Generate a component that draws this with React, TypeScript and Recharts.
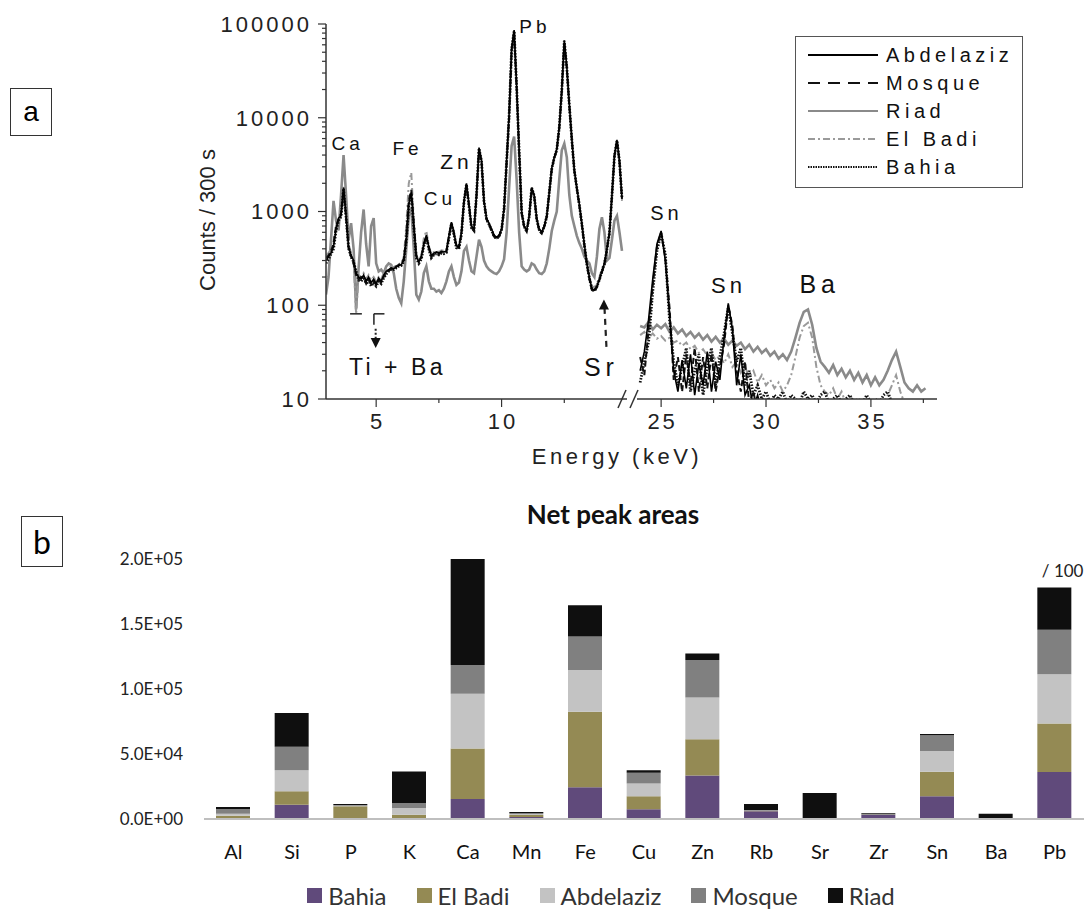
import React from "react";
import {
  LineChart,
  Line,
  XAxis,
  YAxis,
  ReferenceDot,
  ReferenceLine,
  Legend,
  BarChart,
  Bar,
} from "recharts";

// ---------- panel a: XRF spectra (counts / 300 s) ----------

const LOW_KEV = [
  3.0, 3.1, 3.2, 3.3, 3.4, 3.5, 3.6, 3.7, 3.8, 3.9,
  4.0, 4.1, 4.2, 4.3, 4.4, 4.5, 4.6, 4.7, 4.8, 4.9,
  5.0, 5.1, 5.2, 5.3, 5.4, 5.5, 5.6, 5.7, 5.8, 5.9,
  6.0, 6.1, 6.2, 6.3, 6.4, 6.5, 6.6, 6.7, 6.8, 6.9,
  7.0, 7.1, 7.2, 7.3, 7.4, 7.5, 7.6, 7.7, 7.8, 7.9,
  8.0, 8.1, 8.2, 8.3, 8.4, 8.5, 8.6, 8.7, 8.8, 8.9,
  9.0, 9.1, 9.2, 9.3, 9.4, 9.5, 9.6, 9.7, 9.8, 9.9,
  10.0, 10.1, 10.2, 10.3, 10.4, 10.5, 10.6, 10.7, 10.8, 10.9,
  11.0, 11.1, 11.2, 11.3, 11.4, 11.5, 11.6, 11.7, 11.8, 11.9,
  12.0, 12.1, 12.2, 12.3, 12.4, 12.5, 12.6, 12.7, 12.8, 12.9,
  13.0, 13.1, 13.2, 13.3, 13.4, 13.5, 13.6, 13.7, 13.8, 13.9,
  14.0, 14.1, 14.2, 14.3, 14.4, 14.5, 14.6, 14.7, 14.8,
];

const ABDELAZIZ_LOW = [
  300, 330, 360, 420, 650, 850, 900, 1800, 900, 420,
  340, 300, 220, 200, 190, 210, 180, 200, 175, 190,
  170, 195, 180, 210, 230, 240, 250, 245, 255, 265,
  270, 300, 500, 1200, 1600, 700, 330, 290, 330, 450,
  560, 420, 340, 360, 370, 360, 375, 370, 380, 550,
  770, 600, 430, 420, 600, 1300, 2000, 1200, 700, 650,
  1500, 4800, 3500, 1300, 850, 750, 650, 560, 530, 560,
  650, 1100, 3500, 11000, 55000, 86000, 22000, 4500, 1000, 700,
  630, 900, 1800, 1500, 850, 650, 600, 700, 900, 1600,
  2900, 3800, 4600, 8000, 20000, 67000, 35000, 14000, 6000, 2800,
  1800, 1200, 750, 450, 280, 200, 150, 145, 160, 190,
  230, 280, 400, 600, 1500, 4000, 5800, 3500, 1400,
];

const MOSQUE_LOW = [
  320, 340, 380, 450, 700, 820, 950, 1700, 850, 400,
  330, 280, 210, 190, 200, 195, 170, 190, 165, 180,
  165, 185, 175, 200, 220, 235, 240, 250, 260, 270,
  280, 310, 520, 1300, 1700, 750, 340, 300, 320, 440,
  540, 400, 330, 350, 360, 350, 365, 360, 370, 530,
  740, 580, 420, 410, 580, 1250, 1900, 1150, 680, 620,
  1450, 4600, 3400, 1250, 820, 720, 620, 540, 510, 540,
  630, 1050, 3300, 10000, 52000, 82000, 21000, 4300, 950, 680,
  610, 870, 1750, 1450, 820, 620, 580, 680, 870, 1550,
  2800, 3700, 4500, 7800, 19000, 64000, 34000, 13500, 5800, 2700,
  1750, 1150, 720, 430, 270, 190, 145, 140, 155, 185,
  225, 270, 390, 580, 1450, 3900, 5600, 3400, 1350,
];

const RIAD_LOW = [
  130, 200, 500, 1300, 800, 630, 1500, 4000, 1500, 500,
  750, 400, 90, 250, 600, 1050, 450, 260, 700, 850,
  280, 230, 240, 220, 260, 280, 270, 220, 150, 120,
  105, 180, 400, 900, 1100, 400, 130, 115, 140, 220,
  260, 180, 150, 150, 140, 145, 135, 150, 180, 230,
  260, 200, 165, 175, 230, 380, 420, 300, 230, 220,
  330, 500, 420, 300, 260, 240, 230, 220, 215, 230,
  260, 310, 600, 1800, 5000, 6300, 2200, 600, 260, 240,
  230, 240, 280, 270, 240, 220, 215, 230, 280, 400,
  620, 800, 1000, 2200, 4500, 5300, 3800, 1500, 900, 700,
  550, 460, 400, 330, 300, 280, 220, 200, 330, 650,
  870, 600, 300, 320, 500, 800, 900, 600, 380,
];

const EL_BADI_LOW = [
  340, 360, 400, 480, 700, 800, 1000, 1900, 950, 450,
  360, 310, 80, 210, 200, 220, 190, 210, 185, 200,
  180, 200, 190, 220, 240, 250, 260, 255, 265, 275,
  280, 320, 700, 2000, 2600, 800, 350, 300, 340, 520,
  620, 430, 350, 370, 380, 370, 385, 380, 390, 560,
  780, 610, 440, 430, 610, 1280, 1950, 1180, 690, 640,
  1480, 4700, 3450, 1290, 840, 740, 640, 550, 520, 550,
  640, 1000, 3000, 9500, 50000, 80000, 20000, 4200, 950, 680,
  620, 880, 1700, 1450, 830, 640, 590, 690, 880, 1550,
  2800, 3700, 4500, 7500, 18500, 62000, 33000, 13000, 5700, 2700,
  1750, 1150, 730, 440, 280, 205, 160, 155, 170, 200,
  245, 290, 410, 600, 1450, 3800, 5500, 3300, 1300,
];

const BAHIA_LOW = [
  280, 310, 350, 400, 620, 800, 880, 1750, 880, 410,
  330, 290, 230, 185, 180, 200, 170, 185, 160, 175,
  160, 180, 170, 195, 215, 230, 245, 240, 250, 260,
  265, 295, 480, 1150, 1550, 680, 320, 280, 310, 430,
  530, 400, 320, 345, 355, 345, 360, 355, 365, 520,
  740, 570, 410, 400, 570, 1250, 1950, 1150, 670, 630,
  1480, 4700, 3450, 1280, 830, 730, 630, 545, 515, 545,
  640, 1080, 3400, 10500, 54000, 84000, 21500, 4400, 980, 690,
  620, 880, 1780, 1480, 830, 640, 590, 690, 880, 1580,
  2850, 3750, 4550, 7900, 19500, 66000, 34500, 13800, 5900, 2750,
  1780, 1180, 740, 440, 275, 195, 148, 142, 158, 188,
  228, 275, 395, 590, 1480, 3950, 5700, 3450, 1380,
];

const HIGH_KEV = [
  24.0, 24.2, 24.4, 24.6, 24.8, 25.0, 25.2, 25.4, 25.6, 25.8,
  26.0, 26.2, 26.4, 26.6, 26.8, 27.0, 27.2, 27.4, 27.6, 27.8,
  28.0, 28.2, 28.4, 28.6, 28.8, 29.0, 29.2, 29.4, 29.6, 29.8,
  30.0, 30.2, 30.4, 30.6, 30.8, 31.0, 31.2, 31.4, 31.6, 31.8,
  32.0, 32.2, 32.4, 32.6, 32.8, 33.0, 33.2, 33.4, 33.6, 33.8,
  34.0, 34.2, 34.4, 34.6, 34.8, 35.0, 35.2, 35.4, 35.6, 35.8,
  36.0, 36.2, 36.4, 36.6, 36.8, 37.0, 37.2, 37.4, 37.6,
];

const ABDELAZIZ_HIGH = [
  20, 32, 70, 190, 450, 620, 300, 80, 20, 12,
  26, 13, 30, 11, 24, 14, 32, 12, 25, 16,
  45, 105, 55, 14, 30, 11, 14, 8, 11, 7,
  10, 6, 9, 5, 8, 5, 7, 5, 8, 5,
  6, 5, 7, 5, 6, 5, 6, 5, 7, 5,
  5, 6, 5, 5, 5, 6, 5, 5, 5, 5,
  5, 5, 5, 5, 5, 5, 5, 5, 5,
];

const MOSQUE_HIGH = [
  28, 18, 55, 160, 420, 600, 320, 95, 16, 28,
  12, 30, 14, 35, 12, 28, 13, 30, 12, 22,
  38, 100, 60, 20, 12, 25, 9, 12, 7, 10,
  6, 9, 5, 8, 5, 7, 5, 6, 5, 7,
  5, 6, 5, 6, 5, 5, 5, 6, 5, 5,
  6, 5, 5, 5, 6, 5, 5, 5, 5, 5,
  5, 5, 5, 5, 5, 5, 5, 5, 5,
];

const RIAD_HIGH = [
  60, 58, 66, 55, 62, 57, 63, 52, 58, 50,
  55, 47, 52, 45, 50, 43, 48, 41, 46, 40,
  44, 38, 42, 37, 40, 34, 38, 32, 36, 31,
  34, 29, 32, 27, 30, 26, 32, 45, 65, 85,
  90, 62, 35, 25, 22, 19, 23, 18, 21, 17,
  20, 16, 19, 15, 18, 14, 17, 14, 16, 20,
  26, 32, 22, 15, 13, 12, 14, 12, 13,
];

const EL_BADI_HIGH = [
  48, 52, 45, 50, 44, 47, 42, 45, 40, 42,
  37, 40, 34, 37, 31, 34, 29, 31, 26, 29,
  24, 30, 22, 25, 19, 22, 17, 20, 15, 18,
  14, 16, 13, 15, 12, 14, 18, 28, 45, 60,
  65, 45, 22, 14, 12, 11, 13, 10, 12, 9,
  11, 9, 10, 8, 10, 8, 9, 8, 9, 11,
  14, 18, 12, 9, 8, 7, 8, 7, 8,
];

const BAHIA_HIGH = [
  15, 25, 40, 140, 380, 580, 350, 70, 25, 14,
  22, 35, 12, 20, 30, 11, 22, 35, 14, 28,
  50, 95, 50, 25, 35, 14, 20, 11, 14, 10,
  12, 9, 11, 10, 12, 9, 11, 10, 9, 12,
  10, 11, 9, 11, 12, 9, 10, 11, 9, 10,
  11, 9, 10, 9, 11, 9, 10, 9, 11, 12,
  9, 8, 7, 6, 5, 5, 5, 5, 5,
];

const Y_TICKS = [
  10, 20, 30, 40, 50, 60, 70, 80, 90,
  100, 200, 300, 400, 500, 600, 700, 800, 900,
  1000, 2000, 3000, 4000, 5000, 6000, 7000, 8000, 9000,
  10000, 20000, 30000, 40000, 50000, 60000, 70000, 80000, 90000,
  100000,
];
const Y_LABELS = [10, 100, 1000, 10000, 100000];
const LOW_X_TICKS = [5, 7.5, 10, 12.5];
const HIGH_X_TICKS = [25, 27.5, 30, 32.5, 35, 37.5];

// ---------- panel b: net peak areas ----------

const ELEMENTS = ["Al", "Si", "P", "K", "Ca", "Mn", "Fe", "Cu", "Zn", "Rb", "Sr", "Zr", "Sn", "Ba", "Pb"];
const BAHIA_AREA = [500, 11000, 200, 300, 15400, 1500, 24400, 7500, 33400, 5900, 0, 3100, 17500, 0, 36200];
const EL_BADI_AREA = [2000, 10300, 9600, 3000, 38800, 1500, 58100, 10000, 28000, 300, 0, 200, 18800, 0, 37300];
const ABDELAZIZ_AREA = [1600, 16200, 300, 5100, 42200, 800, 32100, 9800, 32100, 200, 0, 100, 16000, 0, 37800];
const MOSQUE_AREA = [3500, 18000, 600, 3900, 22100, 800, 25700, 8200, 28800, 500, 0, 200, 12100, 0, 34200];
const RIAD_AREA = [1700, 26000, 900, 24200, 81500, 800, 24200, 2000, 5100, 4600, 20000, 800, 1000, 4100, 32600];
const AREA_TICKS = [0, 50000, 100000, 150000, 200000];

const lowRows = LOW_KEV.map((kev, i) => ({
  kev,
  Abdelaziz: ABDELAZIZ_LOW[i],
  Mosque: MOSQUE_LOW[i],
  Riad: RIAD_LOW[i],
  "El Badi": EL_BADI_LOW[i],
  Bahia: BAHIA_LOW[i],
}));

const highRows = HIGH_KEV.map((kev, i) => ({
  kev,
  Abdelaziz: ABDELAZIZ_HIGH[i],
  Mosque: MOSQUE_HIGH[i],
  Riad: RIAD_HIGH[i],
  "El Badi": EL_BADI_HIGH[i],
  Bahia: BAHIA_HIGH[i],
}));

const areaRows = ELEMENTS.map((el, i) => ({
  el,
  Bahia: BAHIA_AREA[i],
  "El Badi": EL_BADI_AREA[i],
  Abdelaziz: ABDELAZIZ_AREA[i],
  Mosque: MOSQUE_AREA[i],
  Riad: RIAD_AREA[i],
}));

// drawing order: grey underneath, black on top
const SPECTRA = [
  { key: "Riad", stroke: "#8a8a8a", width: 2.6, dash: undefined },
  { key: "El Badi", stroke: "#9a9a9a", width: 2, dash: "7 3 2 3" },
  { key: "Bahia", stroke: "#111", width: 2.8, dash: "1.5 1.5" },
  { key: "Mosque", stroke: "#111", width: 2, dash: "6 3" },
  { key: "Abdelaziz", stroke: "#000", width: 1.6, dash: undefined },
];
const LEGEND_ORDER = ["Abdelaziz", "Mosque", "Riad", "El Badi", "Bahia"];

const AREA_SERIES = [
  { key: "Bahia", fill: "#604a7b" },
  { key: "El Badi", fill: "#948a54" },
  { key: "Abdelaziz", fill: "#c3c3c3" },
  { key: "Mosque", fill: "#808080" },
  { key: "Riad", fill: "#0f0f0f" },
];

const SPEC_FONT = "'Liberation Sans', Arial, sans-serif";
const XL_FONT = "Lato, 'Liberation Sans', sans-serif";

const LOW_PEAKS = [
  { text: "Ca", kev: 3.86, counts: 5300, size: 19, spacing: 4 },
  { text: "Fe", kev: 6.25, counts: 4700, size: 19, spacing: 4 },
  { text: "Cu", kev: 7.54, counts: 1380, size: 19, spacing: 4 },
  { text: "Zn", kev: 8.2, counts: 3400, size: 21, spacing: 4 },
  { text: "Pb", kev: 11.33, counts: 94000, size: 19, spacing: 4 },
  { text: "Ti + Ba", kev: 5.85, counts: 22, size: 23, spacing: 3.5 },
  { text: "Sr", kev: 13.98, counts: 22, size: 25, spacing: 5 },
];
const HIGH_PEAKS = [
  { text: "Sn", kev: 25.25, counts: 975, size: 20, spacing: 4 },
  { text: "Sn", kev: 28.21, counts: 164, size: 22, spacing: 4 },
  { text: "Ba", kev: 32.56, counts: 169, size: 25, spacing: 5 },
];

const fmtSci = (v: number) => {
  const [m, e] = v.toExponential(1).split("e");
  const n = Number(e);
  return `${m}E${n < 0 ? "-" : "+"}${String(Math.abs(n)).padStart(2, "0")}`;
};

const LogTick = ({ x, y, payload }: any) => {
  const major = Y_LABELS.includes(payload.value);
  return (
    <g>
      <line x1={x - (major ? 8 : 4)} x2={x} y1={y} y2={y} stroke="#333" strokeWidth={1.2} />
      {major && (
        <text x={x - 14} y={y} dy="0.36em" textAnchor="end" fontSize={22} fill="#222"
          fontFamily={SPEC_FONT} style={{ letterSpacing: 3 }}>
          {payload.value}
        </text>
      )}
    </g>
  );
};

const KevTick = ({ x, y, payload }: any) => {
  const major = Number.isInteger(payload.value);
  return (
    <g>
      <line x1={x} x2={x} y1={y} y2={y + (major ? 8 : 4)} stroke="#333" strokeWidth={1.2} />
      {major && (
        <text x={x + 1.5} y={y + 30} textAnchor="middle" fontSize={22} fill="#222"
          fontFamily={SPEC_FONT} style={{ letterSpacing: 3 }}>
          {payload.value}
        </text>
      )}
    </g>
  );
};

const CountsLabel = ({ viewBox }: any) => {
  const cx = viewBox.x + 27.5;
  const cy = viewBox.y + viewBox.height / 2 + 8.5;
  return (
    <text x={cx} y={cy} transform={`rotate(-90 ${cx} ${cy})`} textAnchor="middle"
      dominantBaseline="central" fontSize={22} fill="#222" fontFamily={SPEC_FONT}>
      Counts / 300 s
    </text>
  );
};

const peakText = (p: any) => (props: any) => (
  <text x={props.cx} y={props.cy} dy="0.36em" textAnchor="middle" fontSize={p.size}
    fill="#111" fontFamily={SPEC_FONT} style={{ letterSpacing: p.spacing }}>
    {p.text}
  </text>
);

const arrowDown = (props: any) => (
  <polygon points={`${props.cx - 5},${props.cy - 10} ${props.cx + 5},${props.cy - 10} ${props.cx},${props.cy}`} fill="#111" />
);
const arrowUp = (props: any) => (
  <polygon points={`${props.cx - 5},${props.cy + 10} ${props.cx + 5},${props.cy + 10} ${props.cx},${props.cy}`} fill="#111" />
);

const SpectraLegend = () => (
  <div style={{ border: "1.5px solid #555", background: "#fff", padding: "4px 0 6px 12px", fontFamily: SPEC_FONT }}>
    {LEGEND_ORDER.map((name) => {
      const s = SPECTRA.find((d) => d.key === name)!;
      return (
        <div key={name} style={{ display: "flex", alignItems: "center", height: 28 }}>
          <svg width={70} height={10}>
            <line x1={0} x2={70} y1={5} y2={5} stroke={s.stroke} strokeWidth={2}
              strokeDasharray={name === "Mosque" ? "12 8" : name === "Bahia" ? "1.5 1" : s.dash} />
          </svg>
          <span style={{ marginLeft: 8, fontSize: 20, letterSpacing: 4.5, color: "#111" }}>{name}</span>
        </div>
      );
    })}
  </div>
);

const AreaLegend = () => (
  <div style={{ display: "flex", justifyContent: "center", gap: 30, paddingLeft: 16, height: 28, alignItems: "center", fontFamily: XL_FONT }}>
    {AREA_SERIES.map((s) => (
      <div key={s.key} style={{ display: "flex", alignItems: "center" }}>
        <span style={{ width: 15, height: 15, background: s.fill, display: "inline-block", marginRight: 6 }} />
        <span style={{ fontSize: 24, color: "#333" }}>{s.key}</span>
      </div>
    ))}
  </div>
);

const spectraLines = () =>
  SPECTRA.map((s) => (
    <Line key={s.key} dataKey={s.key} type="linear" stroke={s.stroke} strokeWidth={s.width}
      strokeDasharray={s.dash} dot={false} activeDot={false} isAnimationActive={false} />
  ));

export default function App() {
  return (
    <div style={{ position: "absolute", left: 0, top: 0, width: 1086, height: 911, background: "#fff", fontFamily: SPEC_FONT }}>
      {/* panel tags */}
      <div style={{ position: "absolute", left: 10, top: 88, width: 40, height: 46, border: "1.5px solid #333", display: "flex", alignItems: "center", justifyContent: "center", fontSize: 28, fontFamily: SPEC_FONT }}>a</div>
      <div style={{ position: "absolute", left: 21, top: 516, width: 40, height: 49, border: "1.5px solid #333", display: "flex", alignItems: "center", justifyContent: "center", fontSize: 32, fontFamily: XL_FONT }}>b</div>

      {/* panel a, low-energy part */}
      <div style={{ position: "absolute", left: 180, top: 0 }}>
        <LineChart width={460} height={470} data={lowRows} margin={{ top: 24, right: 13, bottom: 41, left: 0 }}>
          <XAxis dataKey="kev" type="number" domain={[3, 15]} allowDataOverflow ticks={LOW_X_TICKS} interval={0}
            tickSize={0} tickMargin={0} tickLine={false} height={30} axisLine={{ stroke: "#333", strokeWidth: 1.5 }} tick={<KevTick />} />
          <YAxis scale="log" domain={[10, 100000]} allowDataOverflow ticks={Y_TICKS} interval={0} width={146}
            tickSize={0} tickMargin={0} tickLine={false} axisLine={{ stroke: "#333", strokeWidth: 1.5 }} tick={<LogTick />}
            label={{ content: CountsLabel }} />
          {spectraLines()}
          {LOW_PEAKS.map((p, i) => (
            <ReferenceDot key={i} x={p.kev} y={p.counts} r={0} shape={peakText(p)} />
          ))}
          {/* Ti + Ba markers */}
          <ReferenceLine segment={[{ x: 3.96, y: 81 }, { x: 4.43, y: 81 }]} stroke="#222" strokeWidth={1.5} />
          <ReferenceLine segment={[{ x: 4.91, y: 81 }, { x: 5.33, y: 81 }]} stroke="#222" strokeWidth={1.5} />
          <ReferenceLine segment={[{ x: 4.91, y: 81 }, { x: 4.91, y: 62 }]} stroke="#222" strokeWidth={1.5} />
          <ReferenceLine segment={[{ x: 4.98, y: 56 }, { x: 4.98, y: 42 }]} stroke="#222" strokeWidth={2} strokeDasharray="2 2" />
          <ReferenceDot x={4.98} y={35} r={0} shape={arrowDown} />
          {/* Sr marker */}
          <ReferenceLine segment={[{ x: 14.18, y: 36 }, { x: 14.1, y: 98 }]} stroke="#222" strokeWidth={2.2} strokeDasharray="6 5" />
          <ReferenceDot x={14.08} y={115} r={0} shape={arrowUp} />
        </LineChart>
      </div>

      {/* panel a, high-energy part */}
      <div style={{ position: "absolute", left: 627, top: 0 }}>
        <LineChart width={320} height={470} data={highRows} margin={{ top: 24, right: 10, bottom: 41, left: 10 }}>
          <XAxis dataKey="kev" type="number" domain={[23.85, 38.15]} allowDataOverflow ticks={HIGH_X_TICKS} interval={0}
            tickSize={0} tickMargin={0} tickLine={false} height={30} axisLine={{ stroke: "#333", strokeWidth: 1.5 }} tick={<KevTick />} />
          <YAxis hide scale="log" domain={[10, 100000]} allowDataOverflow />
          {spectraLines()}
          {HIGH_PEAKS.map((p, i) => (
            <ReferenceDot key={i} x={p.kev} y={p.counts} r={0} shape={peakText(p)} />
          ))}
          <Legend layout="vertical" align="center" verticalAlign="middle" content={SpectraLegend}
            wrapperStyle={{ left: 168, top: 36, width: 228 }} />
        </LineChart>
      </div>

      {/* axis break */}
      <svg style={{ position: "absolute", left: 612, top: 386 }} width={36} height={26}>
        <line x1={6} y1={22} x2={14} y2={4} stroke="#333" strokeWidth={1.5} />
        <line x1={18} y1={22} x2={26} y2={4} stroke="#333" strokeWidth={1.5} />
      </svg>
      <div style={{ position: "absolute", left: 617, top: 457, transform: "translate(-50%, -50%)", fontSize: 22, letterSpacing: 3.5, color: "#222", whiteSpace: "nowrap" }}>
        Energy (keV)
      </div>

      {/* panel b */}
      <div style={{ position: "absolute", left: 613, top: 514, transform: "translate(-50%, -50%)", fontFamily: XL_FONT, fontWeight: 700, fontSize: 26, color: "#111", whiteSpace: "nowrap" }}>
        Net peak areas
      </div>
      <div style={{ position: "absolute", left: 100, top: 490 }}>
        <BarChart width={986} height={421} data={areaRows} margin={{ top: 69, right: 2, bottom: 0, left: 14 }} barSize={34}>
          <XAxis dataKey="el" height={92} interval={0} tickLine={false} tickSize={0} tickMargin={26}
            axisLine={{ stroke: "#bfbfbf", strokeWidth: 2 }} tick={{ fontFamily: XL_FONT, fontSize: 20, fill: "#111" }} />
          <YAxis width={90} domain={[0, 200000]} ticks={AREA_TICKS} tickFormatter={fmtSci} axisLine={false}
            tickLine={false} tickSize={0} tickMargin={21} tick={{ fontFamily: XL_FONT, fontSize: 17, fill: "#222" }} />
          {AREA_SERIES.map((s) => (
            <Bar key={s.key} dataKey={s.key} stackId="area" fill={s.fill} isAnimationActive={false} />
          ))}
          <ReferenceDot x="Pb" y={190500} r={0}
            shape={(p: any) => (
              <text x={p.cx + 8} y={p.cy} dy="0.36em" textAnchor="middle" fontSize={17} fill="#222" fontFamily={XL_FONT}>/ 100</text>
            )} />
          <Legend layout="horizontal" align="center" verticalAlign="middle" content={AreaLegend}
            wrapperStyle={{ left: 0, top: 391, width: 986 }} />
        </BarChart>
      </div>
    </div>
  );
}
